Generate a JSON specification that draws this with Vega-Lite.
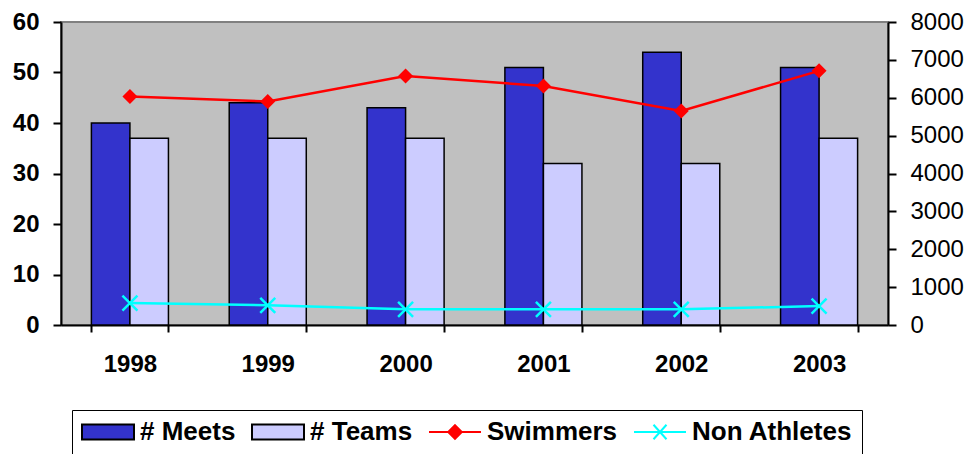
{
  "$schema": "https://vega.github.io/schema/vega-lite/v6.json",
  "width": 827,
  "height": 303,
  "padding": {"left": 12, "top": 10, "right": 5, "bottom": 0},
  "background": "white",
  "data": {
    "values": [
      {"year": "1998", "series": "# Meets", "value": 40},
      {"year": "1999", "series": "# Meets", "value": 44},
      {"year": "2000", "series": "# Meets", "value": 43},
      {"year": "2001", "series": "# Meets", "value": 51},
      {"year": "2002", "series": "# Meets", "value": 54},
      {"year": "2003", "series": "# Meets", "value": 51},
      {"year": "1998", "series": "# Teams", "value": 37},
      {"year": "1999", "series": "# Teams", "value": 37},
      {"year": "2000", "series": "# Teams", "value": 37},
      {"year": "2001", "series": "# Teams", "value": 32},
      {"year": "2002", "series": "# Teams", "value": 32},
      {"year": "2003", "series": "# Teams", "value": 37},
      {"year": "1998", "series": "Swimmers", "value": 6030},
      {"year": "1999", "series": "Swimmers", "value": 5900},
      {"year": "2000", "series": "Swimmers", "value": 6575},
      {"year": "2001", "series": "Swimmers", "value": 6310},
      {"year": "2002", "series": "Swimmers", "value": 5650},
      {"year": "2003", "series": "Swimmers", "value": 6710},
      {"year": "1998", "series": "Non Athletes", "value": 580},
      {"year": "1999", "series": "Non Athletes", "value": 520},
      {"year": "2000", "series": "Non Athletes", "value": 415},
      {"year": "2001", "series": "Non Athletes", "value": 415},
      {"year": "2002", "series": "Non Athletes", "value": 415},
      {"year": "2003", "series": "Non Athletes", "value": 500}
    ]
  },
  "config": {
    "font": "Liberation Sans",
    "view": {"fill": "#C0C0C0", "stroke": "#808080", "strokeWidth": 2},
    "axis": {
      "domainColor": "black",
      "domainWidth": 2,
      "tickColor": "black",
      "tickWidth": 2,
      "labelColor": "black",
      "labelFont": "Liberation Sans",
      "labelFontSize": 24,
      "grid": false
    },
    "axisX": {
      "tickBand": "extent",
      "tickSize": 7,
      "labelPadding": 20,
      "labelFontWeight": "bold",
      "labelAngle": 0
    },
    "axisLeft": {"tickSize": 8, "labelPadding": 14, "labelFontWeight": "bold"},
    "axisRight": {"tickSize": 8, "labelPadding": 14, "labelFontWeight": "normal"},
    "legend": {
      "orient": "none",
      "legendX": 11,
      "legendY": 388,
      "direction": "horizontal",
      "symbolSize": 2704,
      "symbolStrokeWidth": 2,
      "clipHeight": 26,
      "labelFont": "Liberation Sans",
      "labelFontSize": 26,
      "labelFontWeight": "bold",
      "labelColor": "black",
      "labelLimit": 300,
      "labelOffset": 5,
      "columnPadding": 15,
      "padding": 9,
      "strokeColor": "black"
    }
  },
  "layer": [
    {
      "transform": [{"filter": "datum.series === '# Meets' || datum.series === '# Teams'"}],
      "mark": {"type": "bar", "strokeWidth": 1.5},
      "encoding": {
        "x": {
          "field": "year",
          "type": "nominal",
          "title": null,
          "scale": {"paddingInner": 0.441, "paddingOuter": 0.2205}
        },
        "xOffset": {
          "field": "series",
          "type": "nominal",
          "sort": ["# Meets", "# Teams"],
          "scale": {"paddingInner": 0, "paddingOuter": 0}
        },
        "y": {
          "field": "value",
          "type": "quantitative",
          "title": null,
          "scale": {"domain": [0, 60], "nice": false},
          "axis": {"values": [0, 10, 20, 30, 40, 50, 60], "orient": "left"}
        },
        "color": {
          "field": "series",
          "type": "nominal",
          "title": null,
          "scale": {
            "domain": ["# Meets", "# Teams", "Swimmers", "Non Athletes"],
            "range": ["#3333CC", "#CCCCFF", "#FF0000", "#00FFFF"]
          }
        },
        "stroke": {
          "field": "series",
          "type": "nominal",
          "title": null,
          "scale": {
            "domain": ["# Meets", "# Teams", "Swimmers", "Non Athletes"],
            "range": ["black", "black", "#FF0000", "#00FFFF"]
          }
        }
      }
    },
    {
      "layer": [
        {
          "transform": [{"filter": "datum.series === 'Swimmers'"}],
          "mark": {
            "type": "line",
            "color": "#FF0000",
            "strokeWidth": 2.5,
            "point": {"shape": "diamond", "size": 225, "filled": true, "color": "#FF0000"}
          },
          "encoding": {
            "x": {"field": "year", "type": "nominal", "title": null},
            "y": {
              "field": "value",
              "type": "quantitative",
              "title": null,
              "scale": {"domain": [0, 8000], "nice": false},
              "axis": {"values": [0, 1000, 2000, 3000, 4000, 5000, 6000, 7000, 8000], "format": "d", "orient": "right"}
            }
          }
        },
        {
          "transform": [{"filter": "datum.series === 'Non Athletes'"}],
          "mark": {
            "type": "line",
            "color": "#00FFFF",
            "strokeWidth": 2.5,
            "point": {"shape": "M-1,-1L1,1M-1,1L1,-1", "size": 225, "filled": false, "stroke": "#00FFFF", "strokeWidth": 2.5}
          },
          "encoding": {
            "x": {"field": "year", "type": "nominal", "title": null},
            "y": {
              "field": "value",
              "type": "quantitative",
              "title": null,
              "axis": {"values": [0, 1000, 2000, 3000, 4000, 5000, 6000, 7000, 8000], "format": "d", "orient": "right"}
            }
          }
        },
        {
          "mark": {"type": "point", "opacity": 0, "filled": true},
          "encoding": {
            "x": {"field": "year", "type": "nominal", "title": null},
            "y": {
              "field": "value",
              "type": "quantitative",
              "title": null,
              "axis": {"values": [0, 1000, 2000, 3000, 4000, 5000, 6000, 7000, 8000], "format": "d", "orient": "right"}
            },
            "shape": {
              "field": "series",
              "type": "nominal",
              "title": null,
              "scale": {
                "domain": ["# Meets", "# Teams", "Swimmers", "Non Athletes"],
                "range": [
                  "M-1,-0.29H1V0.29H-1Z",
                  "M-1,-0.29H1V0.29H-1Z",
                  "M-1,0H1M0,-0.26L0.26,0L0,0.26L-0.26,0Z",
                  "M-1,0H1M-0.25,-0.28L0.25,0.28M-0.25,0.28L0.25,-0.28"
                ]
              }
            }
          }
        }
      ]
    }
  ],
  "resolve": {"scale": {"y": "independent"}}
}
